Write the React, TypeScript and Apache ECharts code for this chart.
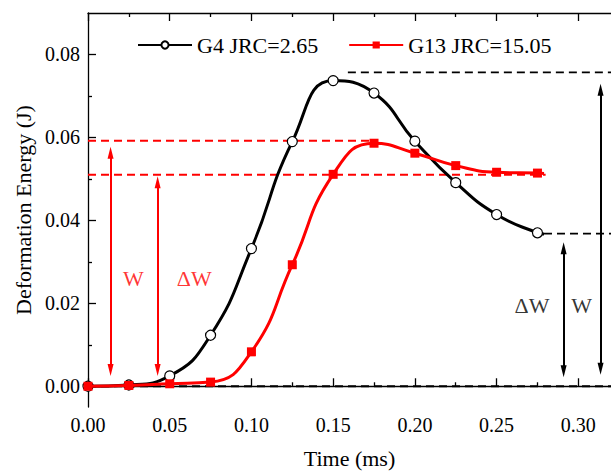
import React, { useEffect, useRef } from "react";
import * as echarts from "echarts";

// ---- data ----
const timeMs = [0, 0.025, 0.05, 0.075, 0.1, 0.125, 0.15, 0.175, 0.2, 0.225, 0.25, 0.275];
const g4Energy = [0, 0.0003, 0.0025, 0.0123, 0.0332, 0.059, 0.0737, 0.0707, 0.0591, 0.0491, 0.0414, 0.037];
const g13Energy = [0, 0.0002, 0.0006, 0.001, 0.0083, 0.0293, 0.0511, 0.0586, 0.0562, 0.0532, 0.0516, 0.0514];
// curve tails (no marker)
const tailTime = 0.279;
const g4Tail = 0.0367;
const g13Tail = 0.0513;

const xMajorTicks = [0, 0.05, 0.1, 0.15, 0.2, 0.25, 0.3];
const xMinorTicks = [0.025, 0.075, 0.125, 0.175, 0.225, 0.275];
const yMajorTicks = [0, 0.02, 0.04, 0.06, 0.08];
const yMinorTicks = [0.01, 0.03, 0.05, 0.07];

const seriesNames = ["G4 JRC=2.65", "G13 JRC=15.05"];

// annotation guides: [x1, x2, y]
const blackGuides = [
  [0, 0.32, 0],
  [0.159, 0.32, 0.0757],
  [0.279, 0.32, 0.0368],
];
const redGuides = [
  [0, 0.175, 0.0592],
  [0, 0.28, 0.051],
];
// arrows: [x, yBottom, yTop]
const redArrows = [
  [0.0138, 0.0039, 0.0563],
  [0.0426, 0.0039, 0.0492],
];
const blackArrows = [
  [0.291, 0.0036, 0.0333],
  [0.3136, 0.0042, 0.0715],
];
// annotation labels: [x, y, text]
const redLabels: [number, number, string][] = [
  [0.0278, 0.0261, "W"],
  [0.065, 0.0261, "ΔW"],
];
const blackLabels: [number, number, string][] = [
  [0.2717, 0.0195, "ΔW"],
  [0.302, 0.0195, "W"],
];

const FONT = '"Liberation Serif", "Times New Roman", serif';
const X_MIN = 0;
const X_MAX = 0.32;
const Y_MIN = -0.005;
const Y_MAX = 0.09;

function guideSeries(g: number[], color: string) {
  return {
    type: "line",
    data: [
      [g[0], g[2]],
      [g[1], g[2]],
    ],
    symbol: "none",
    silent: true,
    z: 1,
    lineStyle: { color, width: 1.8, type: [8, 5] },
  };
}

function arrowSeries(arrows: number[][], color: string) {
  return {
    type: "line",
    data: [],
    silent: true,
    z: 1,
    markLine: {
      silent: true,
      symbol: ["triangle", "triangle"],
      symbolSize: [6, 12],
      label: { show: false },
      lineStyle: { color, width: 2, type: "solid" },
      data: arrows.map((a) => [{ coord: [a[0], a[1]] }, { coord: [a[0], a[2]] }]),
    },
  };
}

function labelSeries(labels: [number, number, string][], color: string) {
  return {
    type: "scatter",
    data: labels.map((l) => ({ value: [l[0], l[1]], name: l[2] })),
    symbolSize: 0,
    silent: true,
    label: {
      show: true,
      position: "inside",
      formatter: (p: any) => p.name,
      color,
      fontSize: 22,
      fontFamily: FONT,
    },
  };
}

export default function App() {
  const ref = useRef<HTMLDivElement>(null);
  useEffect(() => {
    if (!ref.current) return;
    const chart = echarts.init(ref.current, undefined, { renderer: "svg" });
    const axisLine = { show: true, lineStyle: { color: "#000", width: 1.3 } };
    const baseX = { type: "value", min: X_MIN, max: X_MAX, splitLine: { show: false } };
    const baseY = { type: "value", min: Y_MIN, max: Y_MAX, splitLine: { show: false } };
    chart.setOption({
      animation: false,
      backgroundColor: "#fff",
      textStyle: { fontFamily: FONT },
      grid: { left: 88, right: -3, top: 13, bottom: 65, containLabel: false },
      legend: {
        left: 137,
        top: 34,
        padding: 0,
        itemWidth: 54,
        itemHeight: 9,
        itemGap: 30,
        data: seriesNames,
        textStyle: { fontSize: 22, fontFamily: FONT, color: "#000" },
      },
      xAxis: [
        {
          ...baseX,
          position: "bottom",
          axisLine,
          axisTick: { show: true, inside: true, length: 8, customValues: xMajorTicks, lineStyle: { color: "#000", width: 1.3 } },
          axisLabel: {
            customValues: xMajorTicks,
            formatter: (v: number) => v.toFixed(2),
            fontSize: 20,
            fontFamily: FONT,
            color: "#000",
            margin: 8,
          },
          name: "Time (ms)",
          nameLocation: "middle",
          nameGap: 40,
          nameTextStyle: { fontSize: 22, fontFamily: FONT, color: "#000" },
        },
        {
          ...baseX,
          position: "bottom",
          axisLine: { show: false },
          axisTick: { show: true, inside: true, length: 4, customValues: xMinorTicks, lineStyle: { color: "#000", width: 1.3 } },
          axisLabel: { show: false },
        },
        {
          ...baseX,
          position: "top",
          axisLine,
          axisTick: { show: true, inside: true, length: 8, customValues: xMajorTicks, lineStyle: { color: "#000", width: 1.3 } },
          axisLabel: { show: false },
        },
        {
          ...baseX,
          position: "top",
          axisLine: { show: false },
          axisTick: { show: true, inside: true, length: 4, customValues: xMinorTicks, lineStyle: { color: "#000", width: 1.3 } },
          axisLabel: { show: false },
        },
      ],
      yAxis: [
        {
          ...baseY,
          position: "left",
          axisLine,
          axisTick: { show: true, inside: true, length: 8, customValues: yMajorTicks, lineStyle: { color: "#000", width: 1.3 } },
          axisLabel: {
            customValues: yMajorTicks,
            formatter: (v: number) => v.toFixed(2),
            fontSize: 20,
            fontFamily: FONT,
            color: "#000",
            margin: 8,
          },
          name: "Deformation Energy (J)",
          nameLocation: "middle",
          nameGap: 53,
          nameTextStyle: { fontSize: 22, fontFamily: FONT, color: "#000" },
        },
        {
          ...baseY,
          position: "left",
          axisLine: { show: false },
          axisTick: { show: true, inside: true, length: 4, customValues: yMinorTicks, lineStyle: { color: "#000", width: 1.3 } },
          axisLabel: { show: false },
        },
      ],
      series: [
        ...blackGuides.map((g) => guideSeries(g, "#000")),
        ...redGuides.map((g) => guideSeries(g, "#ff0000")),
        arrowSeries(redArrows, "#ff0000"),
        arrowSeries(blackArrows, "#000"),
        labelSeries(redLabels, "#ff0000"),
        labelSeries(blackLabels, "#000"),
        {
          name: seriesNames[0],
          type: "line",
          z: 3,
          smooth: true,
          symbol: "circle",
          symbolSize: 10,
          lineStyle: { color: "#000", width: 3 },
          itemStyle: { color: "#fff", borderColor: "#000", borderWidth: 1.2 },
          data: [
            ...timeMs.map((t, i) => [t, g4Energy[i]]),
            { value: [tailTime, g4Tail], symbol: "none" },
          ],
        },
        {
          name: seriesNames[1],
          type: "line",
          z: 4,
          smooth: true,
          symbol: "rect",
          symbolSize: 9,
          lineStyle: { color: "#ff0000", width: 3 },
          itemStyle: { color: "#ff0000" },
          data: [
            ...timeMs.map((t, i) => [t, g13Energy[i]]),
            { value: [tailTime, g13Tail], symbol: "none" },
          ],
        },
      ],
    });
    return () => chart.dispose();
  }, []);
  return (
    <div
      ref={ref}
      style={{ position: "fixed", left: 0, top: 0, width: 611, height: 474, background: "#fff" }}
    />
  );
}
